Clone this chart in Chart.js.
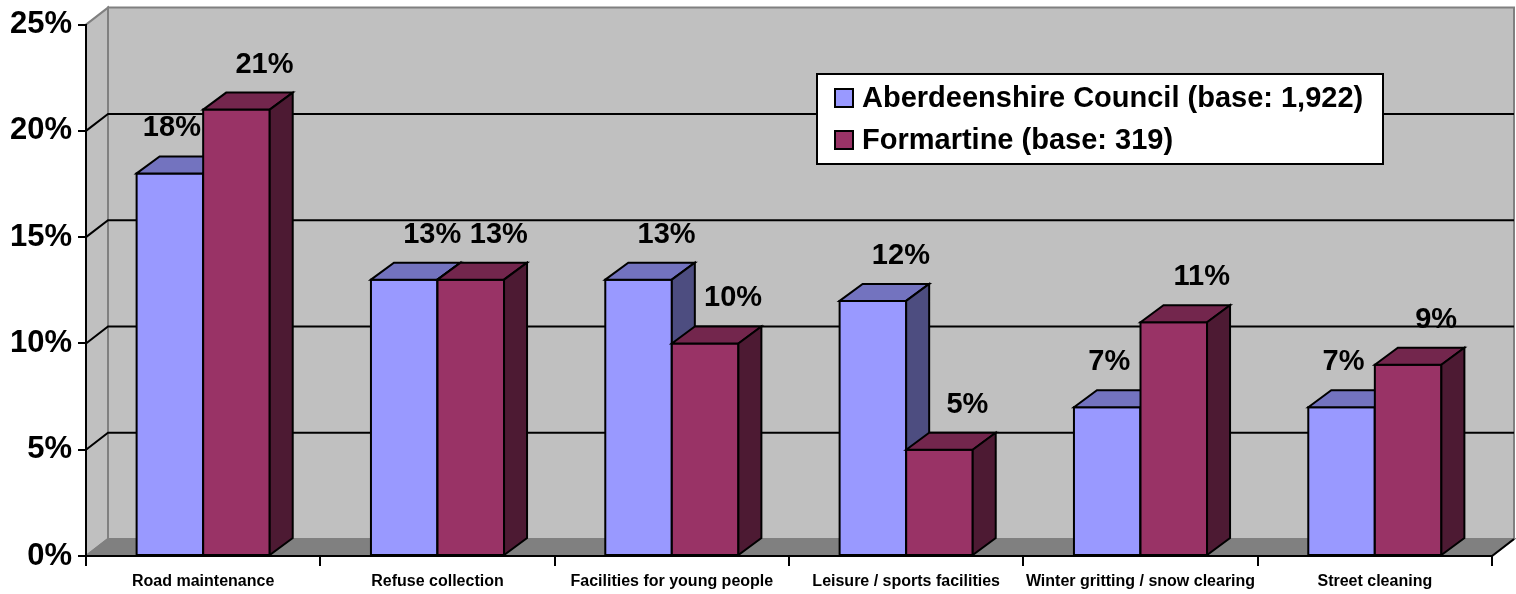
<!DOCTYPE html>
<html>
<head>
<meta charset="utf-8">
<script src="https://cdn.jsdelivr.net/npm/chart.js@4.4.1/dist/chart.umd.min.js"></script>
<style>
  html, body { margin: 0; padding: 0; background: #fff; }
  canvas { display: block; }
</style>
</head>
<body>
<canvas id="chart" width="1516" height="594"></canvas>
<script>
// ---- data
const categories = [
  "Road maintenance",
  "Refuse collection",
  "Facilities for young people",
  "Leisure / sports facilities",
  "Winter gritting / snow clearing",
  "Street cleaning"
];
const seriesNames = ["Aberdeenshire Council (base: 1,922)", "Formartine (base: 319)"];
const aberdeenshire = [18, 13, 13, 12, 7, 7];
const formartine = [21, 13, 10, 5, 11, 9];
const yTicks = [0, 5, 10, 15, 20, 25];

// face colours: front / top / side
const faces = [
  { front: "#9999ff", top: "#7373bf", side: "#4d4d80" },
  { front: "#993366", top: "#73264d", side: "#4d1a33" }
];

const FONT = "Arial, 'Liberation Sans', sans-serif";
const WALL_DX = 22, WALL_DY = 17; // depth of the box
const BAR_DX = 23, BAR_DY = 17;   // depth of each column

function poly(ctx, pts, fill, stroke) {
  ctx.beginPath();
  ctx.moveTo(pts[0][0], pts[0][1]);
  for (let i = 1; i < pts.length; i++) ctx.lineTo(pts[i][0], pts[i][1]);
  ctx.closePath();
  if (fill) { ctx.fillStyle = fill; ctx.fill(); }
  if (stroke) { ctx.strokeStyle = stroke; ctx.stroke(); }
}

// walls, floor and gridlines behind everything
const wallsPlugin = {
  id: "walls",
  beforeDraw(chart) {
    const { ctx, chartArea: a, scales } = chart;
    const y = scales.y;
    const L = a.left, R = a.right;
    const B = y.getPixelForValue(yTicks[0]);
    const T = y.getPixelForValue(yTicks[yTicks.length - 1]);
    ctx.save();
    ctx.lineWidth = 2;
    ctx.lineJoin = "miter";
    // back wall
    poly(ctx, [[L + WALL_DX, T - WALL_DY], [R + WALL_DX, T - WALL_DY], [R + WALL_DX, B - WALL_DY], [L + WALL_DX, B - WALL_DY]], "#c0c0c0", "#808080");
    // left wall
    poly(ctx, [[L, B], [L + WALL_DX, B - WALL_DY], [L + WALL_DX, T - WALL_DY], [L, T]], "#c0c0c0", "#808080");
    // floor
    poly(ctx, [[L, B], [R, B], [R + WALL_DX, B - WALL_DY], [L + WALL_DX, B - WALL_DY]], "#808080", "#808080");
    // gridlines
    ctx.strokeStyle = "#000";
    yTicks.slice(1, -1).forEach((v) => {
      const py = y.getPixelForValue(v);
      ctx.beginPath();
      ctx.moveTo(L, py);
      ctx.lineTo(L + WALL_DX, py - WALL_DY);
      ctx.lineTo(R + WALL_DX, py - WALL_DY);
      ctx.stroke();
    });
    // front right floor edge
    ctx.beginPath();
    ctx.moveTo(R, B);
    ctx.lineTo(R + WALL_DX, B - WALL_DY);
    ctx.stroke();
    ctx.restore();
  }
};

// 3D columns, value labels and the legend box
const columnsPlugin = {
  id: "columns3d",
  afterDatasetsDraw(chart) {
    const { ctx } = chart;
    const metas = chart.data.datasets.map((d, i) => chart.getDatasetMeta(i));
    ctx.save();
    ctx.lineWidth = 2;
    ctx.lineJoin = "miter";
    const labels = [];
    categories.forEach((c, i) => {
      metas.forEach((meta, d) => {
        const bar = meta.data[i].getProps(["x", "y", "base", "width"], true);
        const l = bar.x - bar.width / 2, r = bar.x + bar.width / 2;
        const top = bar.y, base = bar.base;
        const f = faces[d];
        poly(ctx, [[l, top], [r, top], [r, base], [l, base]], f.front, "#000");
        poly(ctx, [[l, top], [l + BAR_DX, top - BAR_DY], [r + BAR_DX, top - BAR_DY], [r, top]], f.top, "#000");
        poly(ctx, [[r, top], [r + BAR_DX, top - BAR_DY], [r + BAR_DX, base - BAR_DY], [r, base]], f.side, "#000");
        const vals = chart.data.datasets[d].data;
        const next = chart.data.datasets[d + 1];
        const shift = next && next.data[i] > vals[i] ? 2 : 28;
        labels.push({ x: bar.x + shift, y: top - 45, text: vals[i] + "%" });
      });
    });
    ctx.fillStyle = "#000";
    ctx.font = "bold 29px " + FONT;
    ctx.textAlign = "center";
    ctx.textBaseline = "middle";
    labels.forEach((t) => ctx.fillText(t.text, t.x, t.y));
    ctx.restore();
  },
  afterDraw(chart) {
    const { ctx } = chart;
    ctx.save();
    ctx.lineWidth = 2;
    ctx.fillStyle = "#fff";
    ctx.strokeStyle = "#000";
    ctx.fillRect(817, 74, 566, 90);
    ctx.strokeRect(817, 74, 566, 90);
    ctx.font = "bold 29px " + FONT;
    ctx.textAlign = "left";
    ctx.textBaseline = "middle";
    chart.data.datasets.forEach((ds, i) => {
      const cy = 98 + i * 42;
      ctx.fillStyle = faces[i].front;
      ctx.fillRect(835, cy - 9, 18, 18);
      ctx.strokeStyle = "#000";
      ctx.strokeRect(835, cy - 9, 18, 18);
      ctx.fillStyle = "#000";
      ctx.fillText(ds.label, 862, cy + 1);
    });
    ctx.restore();
  }
};

new Chart(document.getElementById("chart"), {
  type: "bar",
  data: {
    labels: categories,
    datasets: [
      { label: seriesNames[0], data: aberdeenshire, backgroundColor: faces[0].front, borderWidth: 0 },
      { label: seriesNames[1], data: formartine, backgroundColor: faces[1].front, borderWidth: 0 }
    ]
  },
  options: {
    responsive: false,
    animation: false,
    devicePixelRatio: 1,
    layout: { padding: { top: 23, right: 24, left: 0, bottom: 0 } },
    datasets: { bar: { categoryPercentage: 0.568, barPercentage: 1.0 } },
    plugins: { legend: { display: false }, tooltip: { enabled: false } },
    scales: {
      x: {
        grid: { drawOnChartArea: false, drawTicks: true, tickLength: 10, color: "#000", lineWidth: 2, offset: true },
        border: { display: true, color: "#000", width: 2 },
        ticks: { font: { family: FONT, weight: "bold", size: 16 }, color: "#000", padding: 6, maxRotation: 0, autoSkip: false },
        afterFit(s) { s.height = 38; }
      },
      y: {
        min: yTicks[0],
        max: yTicks[yTicks.length - 1],
        afterBuildTicks(s) { s.ticks = yTicks.map((v) => ({ value: v })); },
        ticks: { callback: (v) => v + "%", font: { family: FONT, weight: "bold", size: 31 }, color: "#000", padding: 6 },
        grid: { drawOnChartArea: false, drawTicks: true, tickLength: 8, color: "#000", lineWidth: 2 },
        border: { display: true, color: "#000", width: 2 },
        afterFit(s) { s.width = 86; }
      }
    }
  },
  plugins: [wallsPlugin, columnsPlugin]
});
</script>
</body>
</html>
